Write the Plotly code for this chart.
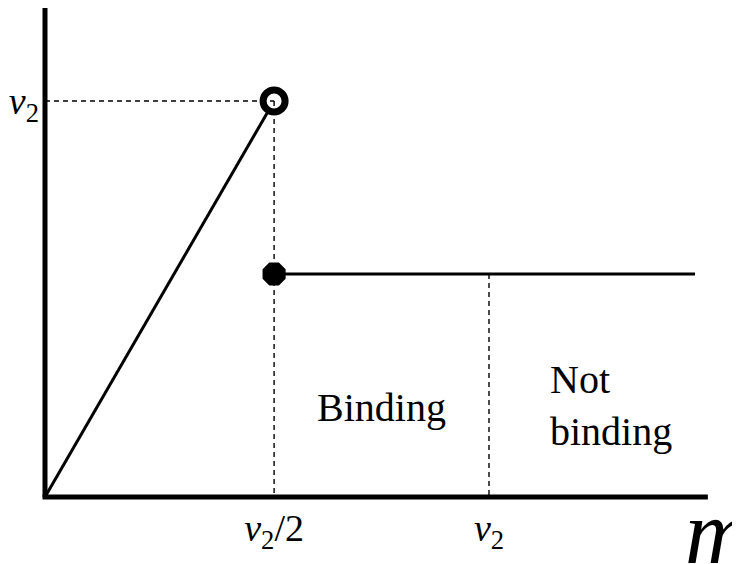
import plotly.graph_objects as go

# Data (axis units: v2 = 1)
kink_x = 0.516          # v2/2 position on m axis
v2_x = 1.0              # v2 position on m axis
peak_y = 1.0            # v2 on vertical axis
flat_y = 0.563          # level of the flat segment
end_x = 1.464           # end of flat segment
axis_x_end = 1.493
axis_y_end = 1.237

rise_x = [0, kink_x]
rise_y = [0, peak_y]
flat_x = [kink_x, end_x]
flat_y_vals = [flat_y, flat_y]

xtick_vals = [kink_x, v2_x]
xtick_text = ["<i>v</i><sub>2</sub>/2", "<i>v</i><sub>2</sub>"]
ytick_vals = [peak_y]
ytick_text = ["<i>v</i><sub>2</sub>"]

FONT = "Liberation Serif"

fig = go.Figure()
fig.add_trace(go.Scatter(x=rise_x, y=rise_y, mode="lines",
                         line=dict(color="black", width=3), hoverinfo="skip"))
fig.add_trace(go.Scatter(x=flat_x, y=flat_y_vals, mode="lines",
                         line=dict(color="black", width=3), hoverinfo="skip"))
fig.add_trace(go.Scatter(x=[kink_x], y=[peak_y], mode="markers",
                         marker=dict(symbol="circle", size=22, color="white",
                                     line=dict(color="black", width=7)),
                         cliponaxis=False, hoverinfo="skip"))
fig.add_trace(go.Scatter(x=[kink_x], y=[flat_y], mode="markers",
                         marker=dict(symbol="octagon", size=25, color="black",
                                     line=dict(width=0)),
                         cliponaxis=False, hoverinfo="skip"))

dash = "5px,4px"
shapes = [
    # dashed guides
    dict(type="line", xref="x", yref="y", x0=0, y0=peak_y, x1=kink_x, y1=peak_y,
         line=dict(color="black", width=1.4, dash=dash)),
    dict(type="line", xref="x", yref="y", x0=kink_x, y0=peak_y, x1=kink_x, y1=0,
         line=dict(color="black", width=1.4, dash=dash)),
    dict(type="line", xref="x", yref="y", x0=v2_x, y0=flat_y, x1=v2_x, y1=0,
         line=dict(color="black", width=1.4, dash=dash)),
    # axes
    dict(type="line", xref="x", yref="y", x0=0, y0=0, x1=0, y1=axis_y_end,
         line=dict(color="black", width=5)),
    dict(type="line", xref="x", yref="y", x0=-0.0056, y0=0, x1=axis_x_end, y1=0,
         line=dict(color="black", width=5)),
]

annotations = [
    dict(x=0.759, y=0.225, xref="x", yref="y", text="Binding", showarrow=False,
         font=dict(family=FONT, size=40, color="black"), xanchor="center", yanchor="middle"),
    dict(x=1.133, y=0.232, xref="x", yref="y", text="Not<br>binding", showarrow=False,
         align="left", font=dict(family=FONT, size=40, color="black"),
         xanchor="left", yanchor="middle"),
    dict(x=0.957, y=-0.061, xref="paper", yref="paper", text="<i>m</i>", showarrow=False,
         font=dict(family=FONT, size=90, color="black"), xanchor="left", yanchor="middle"),
]

fig.update_layout(
    width=740, height=564,
    margin=dict(l=32, r=36, t=0, b=70, autoexpand=False),
    paper_bgcolor="white", plot_bgcolor="white",
    showlegend=False,
    shapes=shapes,
    annotations=annotations,
    xaxis=dict(range=[-0.01126, 1.5023], showgrid=False, zeroline=False, showline=False,
               automargin=False,
               tickvals=xtick_vals, ticktext=xtick_text, ticks="",
               tickfont=dict(family=FONT, size=38, color="black")),
    yaxis=dict(range=[-0.01263, 1.2348], showgrid=False, zeroline=False, showline=False,
               automargin=False,
               tickvals=ytick_vals, ticktext=ytick_text, ticks="",
               tickfont=dict(family=FONT, size=38, color="black")),
)

fig.write_html("out.html")
